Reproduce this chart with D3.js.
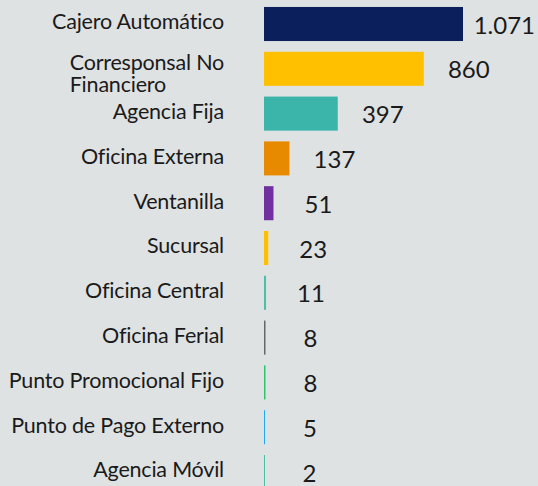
<!DOCTYPE html>
<html lang="es">
<head>
    <meta charset="UTF-8">
    <title>Puntos de atención</title>
    <script src="https://cdn.jsdelivr.net/npm/d3@7"></script>
    <style>
        html, body { margin: 0; padding: 0; background: #dfe2e3; }
        svg { display: block; }
        .cat { font-family: Lato, "Open Sans", sans-serif; font-size: 21.5px; fill: #1a1a1a; letter-spacing: -0.2px; }
        .val { font-family: Lato, "Open Sans", sans-serif; font-size: 24px; fill: #1a1a1a; }
    </style>
</head>
<body>
<div id="chart"></div>
<script>
    // data
    var categories = ["Cajero Automático", "Corresponsal No Financiero", "Agencia Fija",
        "Oficina Externa", "Ventanilla", "Sucursal", "Oficina Central", "Oficina Ferial",
        "Punto Promocional Fijo", "Punto de Pago Externo", "Agencia Móvil"];
    var values = [1071, 860, 397, 137, 51, 23, 11, 8, 8, 5, 2];
    var valueLabels = ["1.071", "860", "397", "137", "51", "23", "11", "8", "8", "5", "2"];
    var colors = ["#0b1f5c", "#ffc000", "#3bb5a9", "#e88a00", "#7030a0", "#ffc000",
        "#4bbfa8", "#666666", "#2ec46e", "#1eaaf1", "#4bbfa8"];

    var width = 538, height = 486;
    var x0 = 264, labelX = 224;

    var svg = d3.select("#chart").append("svg")
        .attr("width", width)
        .attr("height", height);

    var x = d3.scaleLinear()
        .domain([0, 1071])
        .range([x0, 463]);

    var y = d3.scaleBand()
        .domain(categories)
        .range([1.6, 1.6 + 44.8 * categories.length])
        .paddingInner(0.24)
        .paddingOuter(0.12);

    var rows = categories.map(function(c, i) {
        return {name: c, value: values[i], label: valueLabels[i], color: colors[i]};
    });

    svg.selectAll("rect.bar")
        .data(rows)
        .enter().append("rect")
        .attr("class", "bar")
        .attr("x", x(0))
        .attr("y", function(d) { return y(d.name); })
        .attr("width", function(d) { return Math.max(1, x(d.value) - x(0)); })
        .attr("height", y.bandwidth())
        .attr("fill", function(d) { return d.color; });

    // category labels; the long one wraps into two lines
    svg.selectAll("text.cat")
        .data(rows)
        .enter().append("text")
        .attr("class", "cat")
        .each(function(d) {
            var t = d3.select(this);
            var cy = y(d.name) + y.bandwidth() / 2;
            if (d.name === "Corresponsal No Financiero") {
                var l1 = t.append("tspan").attr("x", labelX).attr("y", cy + 1)
                    .attr("text-anchor", "end").text("Corresponsal No");
                var w = l1.node().getComputedTextLength();
                t.append("tspan").attr("x", labelX - w).attr("y", cy + 23)
                    .attr("text-anchor", "start").text("Financiero");
            } else {
                t.attr("x", labelX).attr("y", cy).attr("dy", "0.25em")
                    .attr("text-anchor", "end").text(d.name);
            }
        });

    svg.selectAll("text.val")
        .data(rows)
        .enter().append("text")
        .attr("class", "val")
        .attr("text-anchor", "middle")
        .attr("x", function(d) { return x(d.value) + 45; })
        .attr("y", function(d) { return y(d.name) + y.bandwidth() / 2; })
        .attr("dy", "0.4em")
        .text(function(d) { return d.label; })
        .each(function() {
            var w = this.getComputedTextLength();
            var cx = +this.getAttribute("x");
            if (cx + w / 2 > width - 3) this.setAttribute("x", width - 3 - w / 2);
        });
</script>
</body>
</html>
